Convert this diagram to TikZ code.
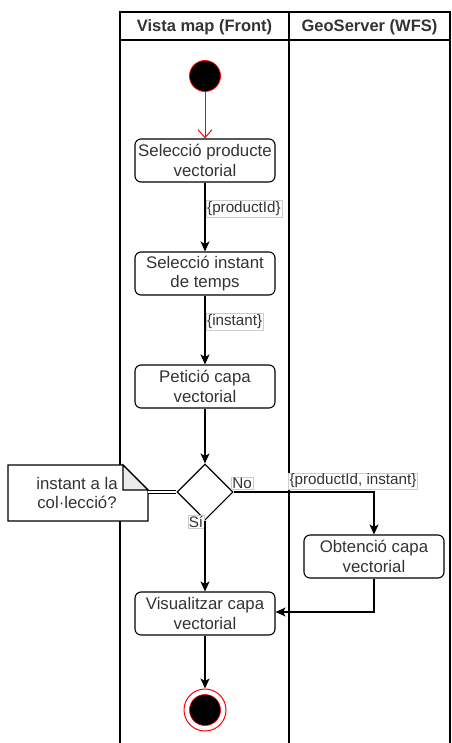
\documentclass[tikz,border=0pt]{standalone}
\usepackage{fontspec}
\setmainfont{Liberation Sans}
\usetikzlibrary{arrows.meta,shapes.geometric,calc}
\definecolor{startred}{HTML}{FF0000}
\definecolor{txt}{HTML}{333333}
\tikzset{
  act/.style={draw, rounded corners=6pt, line width=1.1pt, minimum width=140pt, minimum height=43pt, align=center, font=\fontsize{16.8}{19.5}\selectfont, text=txt, inner sep=0pt},
  lbl/.style={fill=white, draw=black!20, line width=0.4pt, inner sep=1pt, text=txt, font=\fontsize{15.2}{16}\selectfont},
  flow/.style={line width=1.1pt, -{Stealth[length=10pt,width=9pt,inset=2.5pt]}},
  lane/.style={line width=1.1pt},
}
\begin{document}
\begin{tikzpicture}[x=1pt,y=-1pt]
\useasboundingbox (0,0) rectangle (451,743);
% swimlanes
\draw[lane] (120,743) -- (120,12) -- (450,12) -- (450,743);
\draw[lane] (120,40) -- (450,40);
\draw[lane] (289,12) -- (289,743);
\node[text=txt, font=\bfseries\fontsize{16.5}{19}\selectfont] (h1) at (204.5,27) {Vista map (Front)};
\node[text=txt, font=\bfseries\fontsize{16.5}{19}\selectfont] (h2) at (369.5,27) {GeoServer (WFS)};
% start
\node[circle, fill=black, draw=startred, line width=0.8pt, minimum size=31pt, inner sep=0pt] (start) at (205,76) {};
% activities
\node[act] (a1) at (205,160.5) {Selecció producte\\vectorial};
\node[act] (a2) at (205,273.5) {Selecció instant\\de temps};
\node[act] (a3) at (205,386.5) {Petició capa\\vectorial};
\node[draw, diamond, aspect=1, minimum size=56pt, inner sep=0pt, line width=1.1pt] (d) at (205,492) {};
\node[act] (a4) at (374,556.5) {Obtenció capa\\vectorial};
\node[act] (a5) at (205,613.5) {Visualitzar capa\\vectorial};
% end
\node[circle, draw=startred, fill=white, line width=1pt, minimum size=42pt, inner sep=0pt] (endo) at (205,710) {};
\node[circle, fill=black, draw=startred, line width=0.6pt, minimum size=31pt, inner sep=0pt] (endi) at (205,710) {};
% note
\draw[line width=1.1pt, fill=white] (8,465) -- (123,465) -- (148,490) -- (148,521) -- (8,521) -- cycle;
\draw[line width=1.1pt, fill=black!8] (123,465) -- (123,490) -- (148,490) -- cycle;
\node[align=center, text=txt, font=\fontsize{16.8}{19.5}\selectfont] (note) at (77,493) {instant a la\\col·lecció?};
\draw[line width=1.1pt, double, double distance=2.5pt] (148,492) -- (d.west);
% flows
\draw[line width=1pt, startred, -{Straight Barb[length=8pt,width=14pt]}] (start.south) -- (a1.north);
\draw[flow] (a1) -- node[lbl, right=1pt, pos=0.38] (l1) {\{productId\}} (a2);
\draw[flow] (a2) -- node[lbl, right=1pt, pos=0.38] (l2) {\{instant\}} (a3);
\draw[flow] (a3) -- (d);
\coordinate (c1) at (374,492);
\draw[flow] (d.east) -- (c1) -- (a4.north);
\node[lbl] (lno) at (242,483) {No};
\node[lbl] (lpi) at (353,481) {\{productId, instant\}};
\node[lbl] (lsi) at (196,522) {Sí};
\draw[flow] (d.south) -- (a5.north);
\coordinate (c2) at (374,612);
\draw[flow] (a4.south) -- (c2) -- (a5.east |- c2);
\draw[flow] (a5) -- (endo);
\end{tikzpicture}
\end{document}
